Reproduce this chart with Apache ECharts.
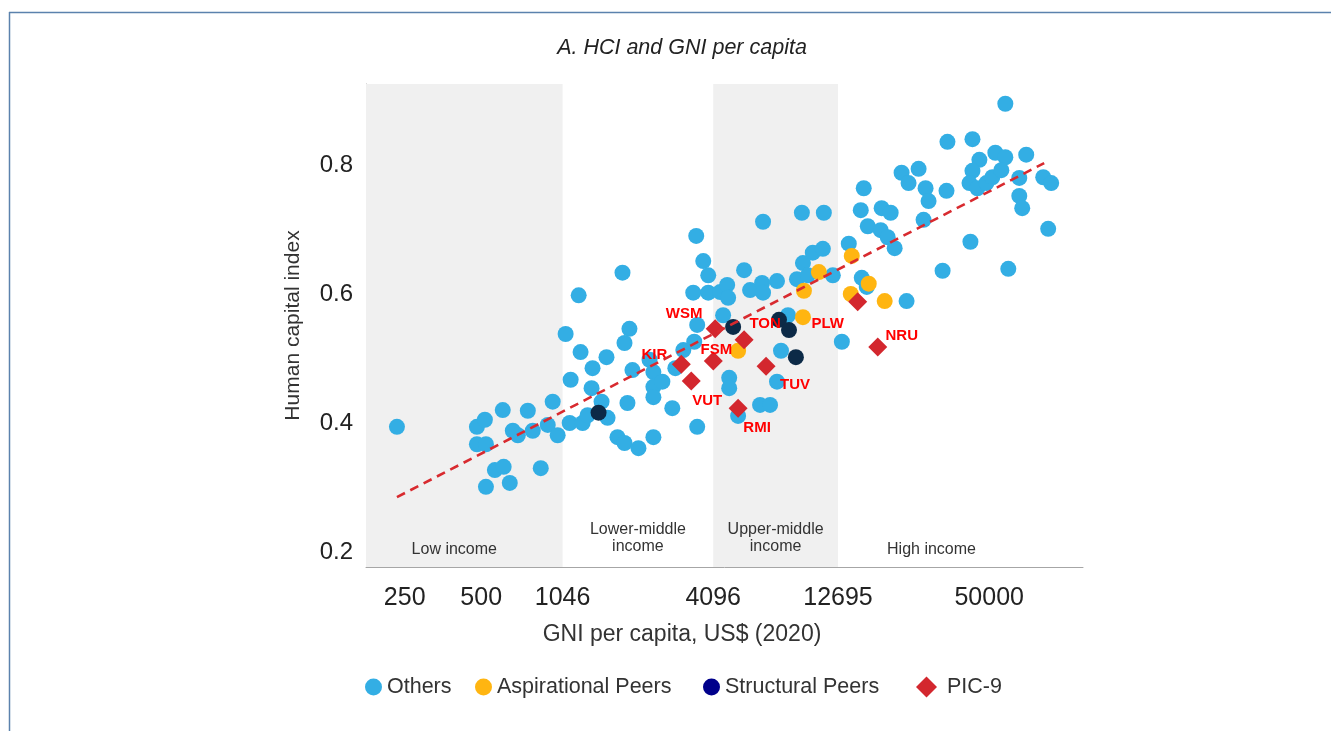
<!DOCTYPE html>
<html>
<head>
<meta charset="utf-8">
<title>HCI and GNI per capita</title>
<script src="https://cdn.jsdelivr.net/npm/echarts@6/dist/echarts.min.js"></script>
<style>
  html, body { margin: 0; padding: 0; background: #ffffff; }
  #chart { width: 1331px; height: 731px; }
</style>
</head>
<body>
<div id="chart"></div>
<script>
// GNI per capita (US$, 2020) and Human Capital Index, by country group
const othersGni = [
  233, 481, 517, 608, 763, 956, 1125, 666, 697, 798, 914, 1000, 1115, 481, 522, 566, 613, 858, 522, 648,
  1075, 1210, 1800, 1917, 1833, 1231, 1557, 1372, 1970, 1360, 1489, 1883, 1572, 1254, 1312, 1720, 1833, 2080, 2382, 2827,
  3543, 2382, 2382, 2584, 2382, 2906, 2300, 3512, 3743, 3916, 3418, 3916, 4363, 4649, 4690, 5420, 6436, 5721, 6378, 6436,
  7303, 8752, 9151, 11167, 9240, 10101, 11068, 9667, 12116, 4481, 3543, 8069, 7574, 4735, 4735, 7303, 6263, 6857, 5133, 3124,
  3449, 13148, 14000, 15606, 16032, 18858, 20464, 16630, 18694, 19923, 21217, 22594, 24068, 26362, 28082, 28852, 33948, 27574, 34243, 42959,
  57868, 69926, 52855, 57868, 45744, 42959, 41812, 44925, 48726, 51446, 55804, 65668, 81592, 87687, 65668, 67437, 85328, 42172, 59441, 32768,
  23642, 15745, 16477
];
const othersHci = [
  0.394, 0.394, 0.405, 0.420, 0.419, 0.433, 0.467, 0.388, 0.381, 0.388, 0.397, 0.381, 0.400, 0.367, 0.367, 0.327, 0.332, 0.330, 0.301, 0.307,
  0.538, 0.598, 0.633, 0.546, 0.524, 0.510, 0.502, 0.485, 0.482, 0.454, 0.433, 0.431, 0.408, 0.400, 0.412, 0.378, 0.369, 0.361, 0.378, 0.423,
  0.394, 0.479, 0.456, 0.464, 0.440, 0.485, 0.498, 0.690, 0.651, 0.629, 0.602, 0.602, 0.603, 0.614, 0.594, 0.637, 0.712, 0.606, 0.617, 0.602,
  0.620, 0.623, 0.726, 0.726, 0.648, 0.664, 0.670, 0.629, 0.629, 0.567, 0.552, 0.567, 0.512, 0.470, 0.454, 0.464, 0.428, 0.428, 0.411, 0.513,
  0.526, 0.526, 0.678, 0.730, 0.764, 0.733, 0.726, 0.705, 0.699, 0.688, 0.671, 0.788, 0.772, 0.794, 0.764, 0.744, 0.760, 0.715, 0.836, 0.840,
  0.895, 0.816, 0.819, 0.812, 0.808, 0.791, 0.772, 0.764, 0.772, 0.781, 0.792, 0.780, 0.781, 0.772, 0.752, 0.733, 0.701, 0.681, 0.639, 0.636,
  0.589, 0.625, 0.611
];

const aspirationalGni = [5133, 9240, 9323, 10674, 14385, 14254, 16777, 19383];
const aspirationalHci = [0.512, 0.564, 0.605, 0.634, 0.659, 0.600, 0.616, 0.589];

const structuralGni = [1449, 4907, 7438, 8143, 8667];
const structuralHci = [0.416, 0.549, 0.560, 0.544, 0.502];

const picCodes = ['WSM', 'KIR', 'FSM', 'VUT', 'TON', 'TUV', 'RMI', 'PLW', 'NRU'];
const picGni = [4170, 3068, 4100, 3357, 5420, 6615, 5133, 15180, 18203];
const picHci = [0.546, 0.491, 0.496, 0.465, 0.529, 0.488, 0.423, 0.588, 0.518];

// Fitted line: HCI against log GNI
const trendGni = [233, 82300];
const trendHci = [0.285, 0.803];

// Axis ticks and income-group thresholds (US$)
const xTickValues = [250, 500, 1046, 4096, 12695, 50000];
const yTickValues = [0.2, 0.4, 0.6, 0.8];
const incomeGroups = ['Low income', 'Lower-middle\nincome', 'Upper-middle\nincome', 'High income'];
const incomeThresholds = [1046, 4096, 12695];

const X_MIN = 176, X_MAX = 117000;
const Y_MIN = 0.1767, Y_MAX = 0.9256;
const FONT = '"Liberation Sans", Arial, Helvetica, sans-serif';

const pairs = (xs, ys) => xs.map((x, i) => [x, ys[i]]);

// Where each country code sits relative to its marker
const codeOffsets = {
  WSM: [-31, -15], KIR: [-27, -9], FSM: [3, -11], VUT: [16, 20], TON: [21, -16],
  TUV: [29, 19], RMI: [19, 20], PLW: [-30, 22], NRU: [24, -11]
};

// Income bands: shaded / unshaded alternating
const bandEdges = [X_MIN, ...incomeThresholds, X_MAX];
const bandFill = ['#f0f0f0', 'rgba(0,0,0,0)', '#f0f0f0', 'rgba(0,0,0,0)'];
const bandLabelShift = [[-10, 0], [0, 0], [0, 0], [-29, 0]];
const bandLabelDistance = [9, 12, 12, 9];
const bands = incomeGroups.map((g, i) => [
  {
    name: g,
    xAxis: bandEdges[i],
    itemStyle: { color: bandFill[i] },
    label: { offset: bandLabelShift[i], distance: bandLabelDistance[i] }
  },
  { xAxis: bandEdges[i + 1] }
]);

// One legend entry per group, each placed on its own
const legendEntries = [
  { name: 'Others', icon: 'circle', left: 365, size: 17, gap: 0 },
  { name: 'Aspirational Peers', icon: 'circle', left: 475, size: 17, gap: 0 },
  { name: 'Structural Peers', icon: 'circle', left: 703, size: 17, gap: 0, color: '#00008b' },
  { name: 'PIC-9', icon: 'diamond', left: 916, size: 21, gap: 5 }
];
const legends = legendEntries.map(e => ({
  data: [e.color ? { name: e.name, icon: e.icon, itemStyle: { color: e.color } } : { name: e.name, icon: e.icon }],
  left: e.left,
  bottom: 731 - 685 - 13,
  padding: 0,
  itemWidth: e.size,
  itemHeight: e.size,
  itemGap: 0,
  selectedMode: false,
  textStyle: { fontFamily: FONT, fontSize: 21.5, color: '#333333', padding: [0, 0, 0, e.gap] }
}));

const chart = echarts.init(document.getElementById('chart'), null, { renderer: 'canvas' });

chart.setOption({
  animation: false,
  backgroundColor: '#ffffff',
  title: [{
    text: 'A. HCI and GNI per capita',
    left: 682,
    top: 37,
    textAlign: 'center',
    padding: 0,
    textStyle: { fontFamily: FONT, fontSize: 21.5, fontStyle: 'italic', fontWeight: 'normal', color: '#222222' }
  }],
  graphic: [
    { type: 'line', silent: true, shape: { x1: 9, y1: 12.5, x2: 1331, y2: 12.5 }, style: { stroke: '#5b82ad', lineWidth: 1.5 } },
    { type: 'line', silent: true, shape: { x1: 9.5, y1: 12, x2: 9.5, y2: 731 }, style: { stroke: '#5b82ad', lineWidth: 1.5 } }
  ],
  legend: legends,
  grid: { left: 366, right: 248, top: 84, bottom: 164, containLabel: false },
  xAxis: {
    type: 'log',
    logBase: 2,
    min: X_MIN,
    max: X_MAX,
    name: 'GNI per capita, US$ (2020)',
    nameLocation: 'middle',
    nameGap: 56,
    nameTextStyle: { fontFamily: FONT, fontSize: 23, color: '#333333', padding: [0, 85, 0, 0] },
    axisLine: { show: true, onZero: false, lineStyle: { color: '#a6a6a6', width: 1 } },
    axisTick: { show: false },
    minorTick: { show: false },
    splitLine: { show: false },
    axisLabel: {
      customValues: xTickValues,
      formatter: v => String(Math.round(v)),
      fontFamily: FONT,
      fontSize: 25,
      color: '#222222',
      margin: 19
    }
  },
  yAxis: {
    type: 'value',
    min: Y_MIN,
    max: Y_MAX,
    name: 'Human capital index',
    nameLocation: 'middle',
    nameGap: 62,
    nameTextStyle: { fontFamily: FONT, fontSize: 21, color: '#333333' },
    axisLine: { show: true, onZero: false, lineStyle: { color: '#a6a6a6', width: 1 } },
    axisTick: { show: false },
    splitLine: { show: false },
    axisLabel: {
      customValues: yTickValues,
      formatter: v => v.toFixed(1),
      fontFamily: FONT,
      fontSize: 24,
      color: '#222222',
      margin: 13
    }
  },
  series: [
    {
      name: 'Others',
      type: 'scatter',
      data: pairs(othersGni, othersHci),
      symbol: 'circle',
      symbolSize: 16,
      itemStyle: { color: '#33aee4', opacity: 1 },
      emphasis: { disabled: true },
      markArea: {
        silent: true,
        label: {
          show: true,
          position: 'insideBottom',
          fontFamily: FONT,
          fontSize: 16,
          lineHeight: 17,
          color: '#333333'
        },
        data: bands
      }
    },
    {
      name: 'Aspirational Peers',
      type: 'scatter',
      data: pairs(aspirationalGni, aspirationalHci),
      symbol: 'circle',
      symbolSize: 16,
      itemStyle: { color: '#ffb511', opacity: 1 },
      emphasis: { disabled: true }
    },
    {
      name: 'Structural Peers',
      type: 'scatter',
      data: pairs(structuralGni, structuralHci),
      symbol: 'circle',
      symbolSize: 16,
      itemStyle: { color: '#0c2a47', opacity: 1 },
      emphasis: { disabled: true }
    },
    {
      name: 'Linear fit',
      type: 'line',
      data: pairs(trendGni, trendHci),
      symbol: 'none',
      silent: true,
      lineStyle: { color: '#d82a2f', width: 2.6, type: [9, 6] },
      emphasis: { disabled: true }
    },
    {
      name: 'PIC-9',
      type: 'scatter',
      data: picCodes.map((code, i) => ({
        name: code,
        value: [picGni[i], picHci[i]],
        label: { offset: codeOffsets[code] }
      })),
      symbol: 'diamond',
      symbolSize: 19,
      itemStyle: { color: '#d3272e', opacity: 1 },
      emphasis: { disabled: true },
      label: {
        show: true,
        position: 'inside',
        formatter: '{b}',
        fontFamily: FONT,
        fontSize: 15,
        fontWeight: 'bold',
        color: '#ff0000'
      }
    }
  ]
});
</script>
</body>
</html>
